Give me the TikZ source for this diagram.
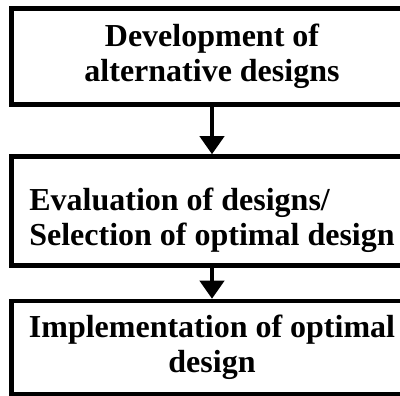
\documentclass[tikz,border=0pt]{standalone}
\usepackage{fontspec}
\setmainfont{Liberation Serif}
\usetikzlibrary{arrows.meta}

\tikzset{
	stage/.style={draw,line width=4.5pt,minimum width=401pt,
		font=\fontsize{32}{35}\selectfont\bfseries},
	flowarrow/.style={line width=4pt,-{Triangle[length=18pt,width=24pt]}}
}

\begin{document}
\begin{tikzpicture}
	\useasboundingbox (0,0) rectangle (400pt,-396pt);

	\node[stage,minimum height=96pt,align=center] (dev) at (212pt,-56.5pt)
		{Development of\\alternative designs};
	\node[stage,minimum height=109pt,align=left] (eval) at (212pt,-211pt)
		{\rule{0pt}{42pt}Evaluation of designs/\\Selection of optimal design};
	\node[stage,minimum height=93pt,align=center] (impl) at (212pt,-347.5pt)
		{Implementation of optimal\\design};

	\draw[flowarrow] (dev.south) -- (eval.north);
	\draw[flowarrow] (eval.south) -- (impl.north);
\end{tikzpicture}
\end{document}
